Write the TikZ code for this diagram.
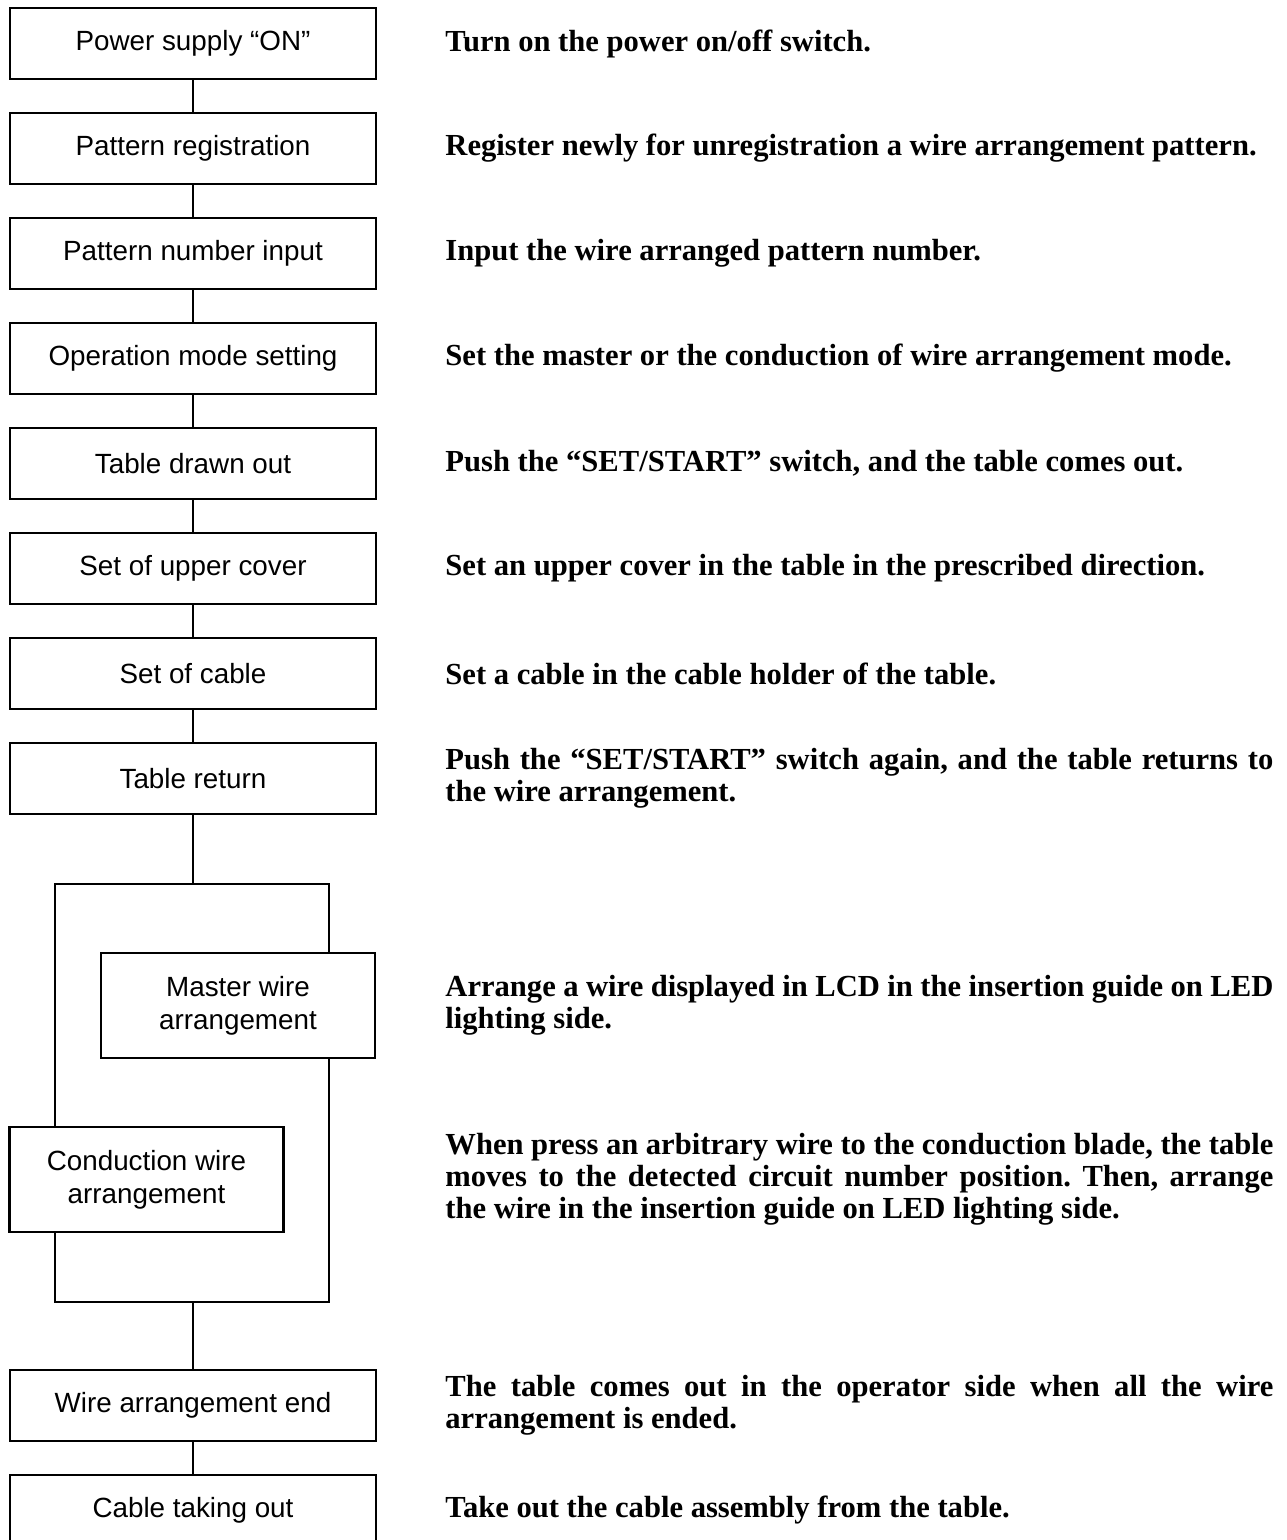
\documentclass[tikz,border=0pt]{standalone}
\usepackage{fontspec}
\setmainfont{Liberation Serif}
\newfontfamily\boxfont{Liberation Sans}
\usetikzlibrary{positioning}
\hyphenpenalty=10000
\frenchspacing

\begin{document}
\begin{tikzpicture}[x=0.5pt,y=-0.5pt,node distance=17pt,
    stepbox/.style={draw,line width=1.2pt,fill=white,outer sep=0pt,inner sep=0pt,
                minimum width=183pt,minimum height=35.5pt,align=center,
                font=\boxfont\fontsize{13.9}{16.5}\selectfont},
    widebox/.style={stepbox,minimum width=137pt,minimum height=52.5pt},
    note/.style={anchor=west,inner sep=0pt,text width=414pt,align=justify,
                font=\bfseries\fontsize{15.3}{16}\selectfont},
    link/.style={line width=1pt}]
    \useasboundingbox (0,0) rectangle (1286,1540);
    % frame round the two wire arrangement modes
    \coordinate (fnw) at (55,884);
    \coordinate (fse) at (329,1302);
    \draw[link] (fnw) rectangle (fse);
    \node[stepbox] (power) at (193,43.5) {Power supply “ON”};
    \node[stepbox,below=of power] (patreg) {Pattern registration};
    \node[stepbox,below=of patreg] (patnum) {Pattern number input};
    \node[stepbox,below=of patnum] (opmode) {Operation mode setting};
    \node[stepbox,below=of opmode] (drawn) {Table drawn out};
    \node[stepbox,below=of drawn] (cover) {Set of upper cover};
    \node[stepbox,below=of cover] (cable) {Set of cable};
    \node[stepbox,below=of cable] (ret) {Table return};
    \node[widebox] (master) at (238,1005.5) {Master wire\\arrangement};
    \node[widebox] (conduct) at (146.5,1179.5) {Conduction wire\\arrangement};
    \node[stepbox] (wend) at (193,1405.5) {Wire arrangement end};
    \node[stepbox,below=of wend] (takeout) {Cable taking out};
    \foreach \a/\b in {power/patreg,patreg/patnum,patnum/opmode,opmode/drawn,
                       drawn/cover,cover/cable,cable/ret,wend/takeout}
      \draw[link] (\a.south) -- (\b.north);
    \draw[link] (ret.south) -- (ret.south |- fnw);
    \draw[link] (wend.north) -- (wend.north |- fse);
    % notes on the right
    \node[note,right=34.5pt of power] (power-note) {Turn on the power on/off switch.};
    \node[note,right=34.5pt of patreg] (patreg-note) {Register newly for unregistration a wire arrangement pattern.};
    \node[note,right=34.5pt of patnum] (patnum-note) {Input the wire arranged pattern number.};
    \node[note,right=34.5pt of opmode] (opmode-note) {Set the master or the conduction of wire arrangement mode.};
    \node[note,right=34.5pt of drawn] (drawn-note) {Push the “SET/START” switch, and the table comes out.};
    \node[note,right=34.5pt of cover] (cover-note) {Set an upper cover in the table in the prescribed direction.};
    \node[note,right=34.5pt of cable] (cable-note) {Set a cable in the cable holder of the table.};
    \node[note,right=34.5pt of ret] (ret-note) {Push the “SET/START” switch again, and the table returns to\linebreak the wire arrangement.};
    \node[note] (master-note) at (master.east -| power-note.west) {Arrange a wire displayed in LCD in the insertion guide on LED\linebreak lighting side.};
    \node[note] (conduct-note) at (conduct.east -| power-note.west) {When press an arbitrary wire to the conduction blade, the table\linebreak moves to the detected circuit number position. Then, arrange\linebreak the wire in the insertion guide on LED lighting side.};
    \node[note,right=34.5pt of wend] (wend-note) {The table comes out in the operator side when all the wire\linebreak arrangement is ended.};
    \node[note,right=34.5pt of takeout] (takeout-note) {Take out the cable assembly from the table.};
\end{tikzpicture}
\end{document}
